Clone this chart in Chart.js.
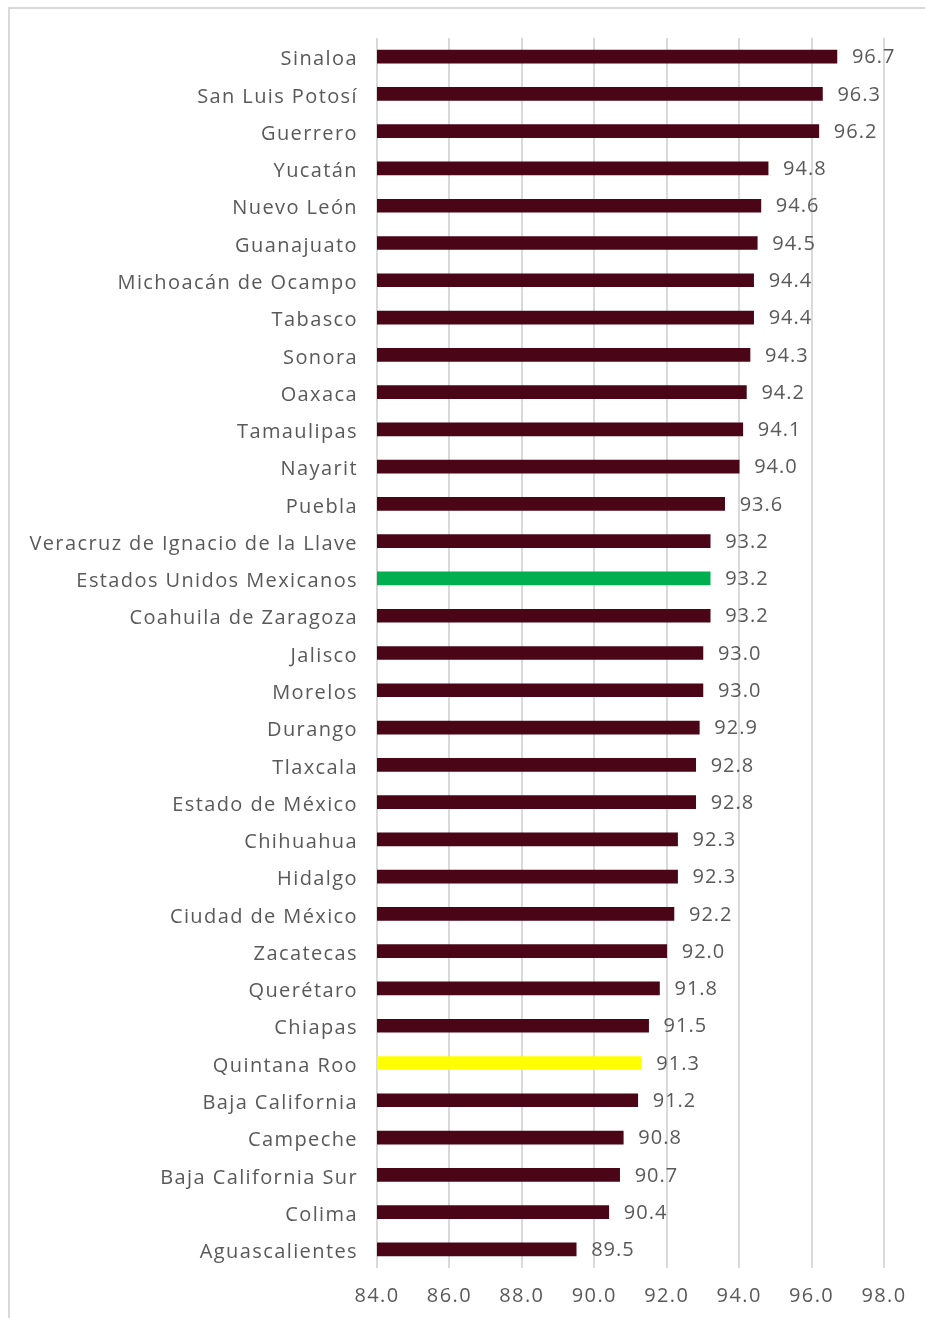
<!DOCTYPE html>
<html>
<head>
<meta charset="utf-8">
<script src="https://cdn.jsdelivr.net/npm/chart.js@4.4.0/dist/chart.umd.min.js"></script>
<style>
  html, body { margin: 0; padding: 0; background: #fff; }
  #frame { position: absolute; left: 8px; top: 7px; width: 940px; height: 1340px; border: 2px solid #d9d9d9; }
  #wrap { position: absolute; left: 0; top: 0; width: 925px; height: 1318px; }
</style>
</head>
<body>
<div id="frame"></div>
<div id="wrap"><canvas id="chart"></canvas></div>
<script>
const states = [
  'Sinaloa', 'San Luis Potosí', 'Guerrero', 'Yucatán', 'Nuevo León', 'Guanajuato',
  'Michoacán de Ocampo', 'Tabasco', 'Sonora', 'Oaxaca', 'Tamaulipas', 'Nayarit',
  'Puebla', 'Veracruz de Ignacio de la Llave', 'Estados Unidos Mexicanos',
  'Coahuila de Zaragoza', 'Jalisco', 'Morelos', 'Durango', 'Tlaxcala',
  'Estado de México', 'Chihuahua', 'Hidalgo', 'Ciudad de México', 'Zacatecas',
  'Querétaro', 'Chiapas', 'Quintana Roo', 'Baja California', 'Campeche',
  'Baja California Sur', 'Colima', 'Aguascalientes'
];
const values = [
  96.7, 96.3, 96.2, 94.8, 94.6, 94.5, 94.4, 94.4, 94.3, 94.2, 94.1, 94.0,
  93.6, 93.2, 93.2, 93.2, 93.0, 93.0, 92.9, 92.8, 92.8, 92.3, 92.3, 92.2,
  92.0, 91.8, 91.5, 91.3, 91.2, 90.8, 90.7, 90.4, 89.5
];
const xTicks = [84, 86, 88, 90, 92, 94, 96, 98];

const MAROON = '#4a0516';
const GREEN = '#00b050';
const YELLOW = '#ffff00';
const TEXT = '#595959';
const FONT = "'Open Sans', sans-serif";

const barColors = states.map(s => {
  if (s === 'Estados Unidos Mexicanos') return GREEN;
  if (s === 'Quintana Roo') return YELLOW;
  return MAROON;
});

// wider letter spacing to get closer to the original typeface
const spacing = {
  id: 'spacing',
  beforeDraw(chart) { chart.ctx.letterSpacing = '1.4px'; }
};

// value labels at the end of each bar
const valueLabels = {
  id: 'valueLabels',
  afterDatasetsDraw(chart) {
    const ctx = chart.ctx;
    const meta = chart.getDatasetMeta(0);
    ctx.save();
    ctx.letterSpacing = '1px';
    ctx.fillStyle = TEXT;
    ctx.font = '20px ' + FONT;
    ctx.textAlign = 'left';
    ctx.textBaseline = 'middle';
    meta.data.forEach((bar, i) => {
      ctx.fillText(values[i].toFixed(1), bar.x + 15, bar.y + 1);
    });
    ctx.restore();
  }
};

Chart.defaults.font.family = FONT;
Chart.defaults.color = TEXT;

new Chart(document.getElementById('chart'), {
  type: 'bar',
  data: {
    labels: states,
    datasets: [{
      data: values,
      backgroundColor: barColors,
      barThickness: 13
    }]
  },
  options: {
    indexAxis: 'y',
    responsive: true,
    maintainAspectRatio: false,
    animation: false,
    layout: { padding: { top: 38, right: 41, bottom: 0, left: 0 } },
    plugins: {
      legend: { display: false },
      tooltip: { enabled: false }
    },
    scales: {
      x: {
        min: 84,
        max: 98,
        afterBuildTicks: scale => { scale.ticks = xTicks.map(v => ({ value: v })); },
        afterFit: scale => { scale.height = 50; },
        grid: { color: '#d9d9d9', lineWidth: 2, drawTicks: false },
        border: { display: false },
        ticks: {
          padding: 16,
          font: { size: 20 },
          color: TEXT,
          callback: v => Number(v).toFixed(1)
        }
      },
      y: {
        afterFit: scale => { scale.width = 377; },
        grid: { display: false, drawTicks: false },
        border: { display: false },
        ticks: {
          padding: 19,
          labelOffset: 3,
          font: { size: 20 },
          color: TEXT,
          autoSkip: false
        }
      }
    }
  },
  plugins: [spacing, valueLabels]
});
</script>
</body>
</html>
